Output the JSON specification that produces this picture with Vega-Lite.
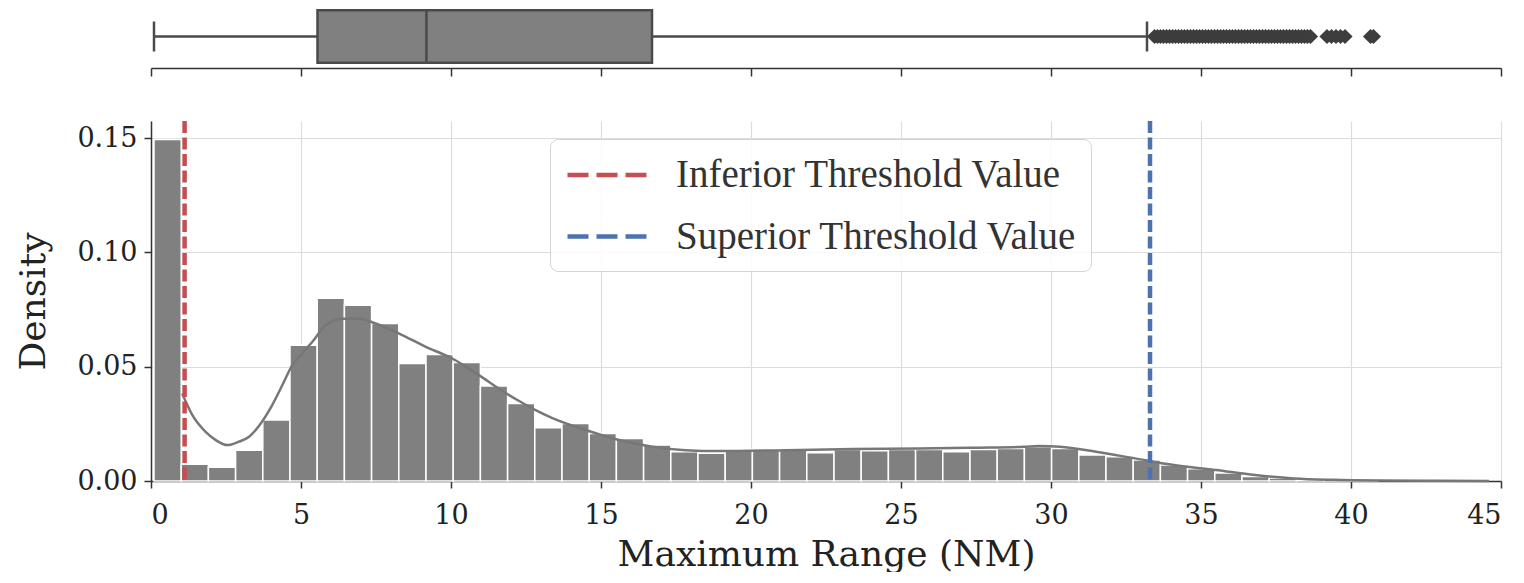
{
  "$schema": "https://vega.github.io/schema/vega-lite/v6.json",
  "background": "white",
  "padding": {"left": 15, "top": 5, "right": 10, "bottom": 0},
  "spacing": 41,
  "resolve": {"scale": {"x": "independent", "y": "independent"}},
  "datasets": {
    "hist": [
      {"b0": 0.1, "b1": 1.007, "d": 0.1494},
      {"b0": 1.007, "b1": 1.913, "d": 0.0073},
      {"b0": 1.913, "b1": 2.82, "d": 0.006},
      {"b0": 2.82, "b1": 3.727, "d": 0.0135},
      {"b0": 3.727, "b1": 4.633, "d": 0.0267},
      {"b0": 4.633, "b1": 5.54, "d": 0.0594},
      {"b0": 5.54, "b1": 6.447, "d": 0.08},
      {"b0": 6.447, "b1": 7.353, "d": 0.0769},
      {"b0": 7.353, "b1": 8.26, "d": 0.0689},
      {"b0": 8.26, "b1": 9.167, "d": 0.0514},
      {"b0": 9.167, "b1": 10.073, "d": 0.0553},
      {"b0": 10.073, "b1": 10.98, "d": 0.0518},
      {"b0": 10.98, "b1": 11.887, "d": 0.0416},
      {"b0": 11.887, "b1": 12.793, "d": 0.0339},
      {"b0": 12.793, "b1": 13.7, "d": 0.0233},
      {"b0": 13.7, "b1": 14.607, "d": 0.0252},
      {"b0": 14.607, "b1": 15.513, "d": 0.0208},
      {"b0": 15.513, "b1": 16.42, "d": 0.0186},
      {"b0": 16.42, "b1": 17.327, "d": 0.0157},
      {"b0": 17.327, "b1": 18.233, "d": 0.0128},
      {"b0": 18.233, "b1": 19.14, "d": 0.0121},
      {"b0": 19.14, "b1": 20.047, "d": 0.0138},
      {"b0": 20.047, "b1": 20.953, "d": 0.0138},
      {"b0": 20.953, "b1": 21.86, "d": 0.0138},
      {"b0": 21.86, "b1": 22.767, "d": 0.0124},
      {"b0": 22.767, "b1": 23.673, "d": 0.0138},
      {"b0": 23.673, "b1": 24.58, "d": 0.0132},
      {"b0": 24.58, "b1": 25.487, "d": 0.0138},
      {"b0": 25.487, "b1": 26.393, "d": 0.0138},
      {"b0": 26.393, "b1": 27.3, "d": 0.0128},
      {"b0": 27.3, "b1": 28.207, "d": 0.0138},
      {"b0": 28.207, "b1": 29.113, "d": 0.0142},
      {"b0": 29.113, "b1": 30.02, "d": 0.015},
      {"b0": 30.02, "b1": 30.927, "d": 0.0142},
      {"b0": 30.927, "b1": 31.833, "d": 0.0114},
      {"b0": 31.833, "b1": 32.74, "d": 0.0106},
      {"b0": 32.74, "b1": 33.647, "d": 0.0092},
      {"b0": 33.647, "b1": 34.553, "d": 0.007},
      {"b0": 34.553, "b1": 35.46, "d": 0.0054},
      {"b0": 35.46, "b1": 36.367, "d": 0.0035},
      {"b0": 36.367, "b1": 37.273, "d": 0.002},
      {"b0": 37.273, "b1": 38.18, "d": 0.0013},
      {"b0": 38.18, "b1": 39.087, "d": 0.0006},
      {"b0": 39.087, "b1": 39.993, "d": 0.0003},
      {"b0": 39.993, "b1": 40.9, "d": 0.0002}
    ],
    "kde": [
      {"x": 1.04, "d": 0.0383},
      {"x": 1.38, "d": 0.0288},
      {"x": 1.82, "d": 0.0215},
      {"x": 2.16, "d": 0.0179},
      {"x": 2.54, "d": 0.0157},
      {"x": 2.93, "d": 0.0172},
      {"x": 3.27, "d": 0.0194},
      {"x": 3.66, "d": 0.0252},
      {"x": 4.04, "d": 0.0332},
      {"x": 4.38, "d": 0.042},
      {"x": 4.71, "d": 0.0507},
      {"x": 5.05, "d": 0.056},
      {"x": 5.38, "d": 0.0609},
      {"x": 5.82, "d": 0.0681},
      {"x": 6.38, "d": 0.071},
      {"x": 6.93, "d": 0.071},
      {"x": 7.49, "d": 0.0689},
      {"x": 8.27, "d": 0.0645},
      {"x": 9.16, "d": 0.0587},
      {"x": 10.04, "d": 0.0536},
      {"x": 10.93, "d": 0.0463},
      {"x": 11.82, "d": 0.0385},
      {"x": 12.27, "d": 0.035},
      {"x": 12.82, "d": 0.031},
      {"x": 13.38, "d": 0.0275},
      {"x": 14.49, "d": 0.0223},
      {"x": 15.6, "d": 0.0179},
      {"x": 16.71, "d": 0.015},
      {"x": 17.82, "d": 0.0135},
      {"x": 18.93, "d": 0.0131},
      {"x": 21.16, "d": 0.0135},
      {"x": 23.4, "d": 0.014},
      {"x": 25.6, "d": 0.0142},
      {"x": 27.5, "d": 0.0146},
      {"x": 29.1, "d": 0.015},
      {"x": 29.6, "d": 0.0153},
      {"x": 30.3, "d": 0.015},
      {"x": 31.5, "d": 0.0128},
      {"x": 32.8, "d": 0.0099},
      {"x": 34.1, "d": 0.007},
      {"x": 35.5, "d": 0.0048},
      {"x": 36.8, "d": 0.0026},
      {"x": 38.1, "d": 0.0011},
      {"x": 39.4, "d": 0.0005},
      {"x": 41.0, "d": 0.0002},
      {"x": 43.0, "d": 0.0001},
      {"x": 44.6, "d": 0.00005}
    ],
    "thr": [
      {"name": "Inferior Threshold Value", "value": 1.12},
      {"name": "Superior Threshold Value", "value": 33.3}
    ],
    "box": [
      {"grp": "a", "lo": 0.1, "q1": 5.55, "med": 9.18, "q3": 16.7, "hi": 33.2}
    ],
    "out": [
      {"grp": "a", "v": 33.45}, {"grp": "a", "v": 33.55}, {"grp": "a", "v": 33.65}, {"grp": "a", "v": 33.75},
      {"grp": "a", "v": 33.85}, {"grp": "a", "v": 33.95}, {"grp": "a", "v": 34.05}, {"grp": "a", "v": 34.15},
      {"grp": "a", "v": 34.25}, {"grp": "a", "v": 34.35}, {"grp": "a", "v": 34.45}, {"grp": "a", "v": 34.55},
      {"grp": "a", "v": 34.65}, {"grp": "a", "v": 34.75}, {"grp": "a", "v": 34.85}, {"grp": "a", "v": 34.95},
      {"grp": "a", "v": 35.05}, {"grp": "a", "v": 35.15}, {"grp": "a", "v": 35.25}, {"grp": "a", "v": 35.35},
      {"grp": "a", "v": 35.45}, {"grp": "a", "v": 35.55}, {"grp": "a", "v": 35.65}, {"grp": "a", "v": 35.75},
      {"grp": "a", "v": 35.85}, {"grp": "a", "v": 35.95}, {"grp": "a", "v": 36.05}, {"grp": "a", "v": 36.15},
      {"grp": "a", "v": 36.25}, {"grp": "a", "v": 36.35}, {"grp": "a", "v": 36.45}, {"grp": "a", "v": 36.55},
      {"grp": "a", "v": 36.65}, {"grp": "a", "v": 36.75}, {"grp": "a", "v": 36.85}, {"grp": "a", "v": 36.95},
      {"grp": "a", "v": 37.05}, {"grp": "a", "v": 37.15}, {"grp": "a", "v": 37.25}, {"grp": "a", "v": 37.35},
      {"grp": "a", "v": 37.45}, {"grp": "a", "v": 37.55}, {"grp": "a", "v": 37.65}, {"grp": "a", "v": 37.75},
      {"grp": "a", "v": 37.85}, {"grp": "a", "v": 37.95}, {"grp": "a", "v": 38.05}, {"grp": "a", "v": 38.15},
      {"grp": "a", "v": 38.25}, {"grp": "a", "v": 38.35}, {"grp": "a", "v": 38.45}, {"grp": "a", "v": 38.55},
      {"grp": "a", "v": 38.65},
      {"grp": "a", "v": 39.2}, {"grp": "a", "v": 39.35}, {"grp": "a", "v": 39.5}, {"grp": "a", "v": 39.65},
      {"grp": "a", "v": 39.8},
      {"grp": "a", "v": 40.65}, {"grp": "a", "v": 40.75}
    ]
  },
  "vconcat": [
    {
      "width": 1350,
      "height": 63,
      "layer": [
        {
          "data": {"name": "box"},
          "mark": {"type": "rule", "stroke": "#4a4a4a", "strokeWidth": 2.5},
          "encoding": {
            "x": {"field": "lo", "type": "quantitative", "scale": {"domain": [0, 45], "nice": false},
                  "axis": {"values": [0, 5, 10, 15, 20, 25, 30, 35, 40, 45], "labels": false, "title": null, "grid": false, "tickSize": 8}},
            "x2": {"field": "q1"},
            "y": {"field": "grp", "type": "nominal", "axis": null, "scale": {"paddingInner": 0, "paddingOuter": 0.098}}
          }
        },
        {
          "data": {"name": "box"},
          "mark": {"type": "rule", "stroke": "#4a4a4a", "strokeWidth": 2.5},
          "encoding": {
            "x": {"field": "q3", "type": "quantitative"},
            "x2": {"field": "hi"},
            "y": {"field": "grp", "type": "nominal"}
          }
        },
        {
          "data": {"name": "box"},
          "mark": {"type": "bar", "fill": "#808080", "stroke": "#4a4a4a", "strokeWidth": 2.5},
          "encoding": {
            "x": {"field": "q1", "type": "quantitative"},
            "x2": {"field": "q3"},
            "y": {"field": "grp", "type": "nominal"}
          }
        },
        {
          "data": {"name": "box"},
          "mark": {"type": "tick", "color": "#4a4a4a", "size": 52, "thickness": 2.5, "opacity": 1},
          "encoding": {
            "x": {"field": "med", "type": "quantitative"},
            "y": {"field": "grp", "type": "nominal"}
          }
        },
        {
          "data": {"name": "box"},
          "mark": {"type": "tick", "color": "#4a4a4a", "size": 30, "thickness": 2.5, "opacity": 1},
          "encoding": {
            "x": {"field": "lo", "type": "quantitative"},
            "y": {"field": "grp", "type": "nominal"}
          }
        },
        {
          "data": {"name": "box"},
          "mark": {"type": "tick", "color": "#4a4a4a", "size": 30, "thickness": 2.5, "opacity": 1},
          "encoding": {
            "x": {"field": "hi", "type": "quantitative"},
            "y": {"field": "grp", "type": "nominal"}
          }
        },
        {
          "data": {"name": "out"},
          "mark": {"type": "point", "shape": "diamond", "filled": true, "color": "#3d3d3d", "size": 230, "opacity": 1},
          "encoding": {
            "x": {"field": "v", "type": "quantitative"},
            "y": {"field": "grp", "type": "nominal"}
          }
        }
      ]
    },
    {
      "width": 1350,
      "height": 360,
      "layer": [
        {
          "data": {"name": "hist"},
          "mark": {"type": "bar", "fill": "#808080", "stroke": "white", "strokeWidth": 1.5},
          "encoding": {
            "x": {"field": "b0", "type": "quantitative", "scale": {"domain": [0, 45], "nice": false},
                  "axis": {"values": [0, 5, 10, 15, 20, 25, 30, 35, 40, 45], "title": "Maximum Range (NM)", "grid": true, "labelPadding": 14, "titlePadding": 9}},
            "x2": {"field": "b1"},
            "y": {"field": "d", "type": "quantitative", "scale": {"domain": [0, 0.1575], "nice": false},
                  "axis": {"values": [0, 0.05, 0.1, 0.15], "format": ".2f", "title": "Density", "grid": true, "labelPadding": 7, "titlePadding": 24}},
            "y2": {"datum": 0}
          }
        },
        {
          "data": {"name": "kde"},
          "mark": {"type": "line", "stroke": "#777777", "strokeWidth": 2.5, "interpolate": "monotone"},
          "encoding": {
            "x": {"field": "x", "type": "quantitative"},
            "y": {"field": "d", "type": "quantitative"}
          }
        },
        {
          "data": {"name": "thr"},
          "mark": {"type": "rule", "strokeWidth": 4.5, "strokeDash": [12, 4.5]},
          "encoding": {
            "x": {"field": "value", "type": "quantitative"},
            "color": {
              "field": "name", "type": "nominal",
              "scale": {"domain": ["Inferior Threshold Value", "Superior Threshold Value"], "range": ["#c44e52", "#4c72b0"]},
              "legend": {
                "title": null, "orient": "none", "legendX": 399, "legendY": 134,
                "symbolType": "M-2,0H2", "symbolSize": 1560, "symbolStrokeWidth": 4.5, "symbolDash": [21, 8],
                "symbolOffset": 21, "labelOffset": 47,
                "labelFont": "Liberation Serif", "labelFontSize": 39, "labelColor": "#333333", "labelLimit": 800,
                "rowPadding": 19.5, "padding": 14,
                "strokeColor": "#d4d4d4", "fillColor": "rgba(255,255,255,0.85)", "cornerRadius": 8
              }
            }
          }
        }
      ]
    }
  ],
  "config": {
    "view": {"stroke": null},
    "font": "DejaVu Serif",
    "axis": {
      "labelFont": "DejaVu Serif", "labelFontSize": 27, "labelColor": "#222222",
      "titleFont": "DejaVu Serif", "titleFontSize": 36, "titleFontWeight": "normal", "titleColor": "#222222",
      "domainColor": "#333333", "domainWidth": 1.5, "tickColor": "#333333", "tickWidth": 1.5, "tickSize": 7,
      "gridColor": "#dcdcdc", "gridWidth": 1.2
    }
  }
}
